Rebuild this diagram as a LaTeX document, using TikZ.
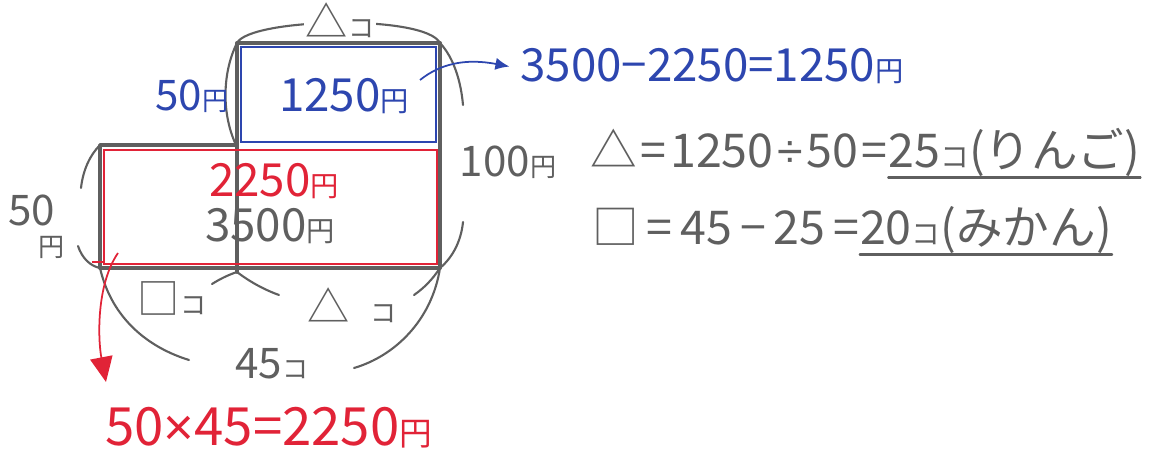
\documentclass[tikz,border=0pt]{standalone}
\usepackage{fontspec}
\setmainfont{Noto Sans CJK JP}
\newfontfamily\latinsym{Liberation Sans}
\usetikzlibrary{arrows.meta, positioning}

\definecolor{pencil}{RGB}{95,95,95}
\definecolor{penblue}{RGB}{45,70,175}
\definecolor{penred}{RGB}{225,35,55}

\newcommand{\yenmark}{\scalebox{0.62}{円}}
\newcommand{\komark}{\scalebox{0.62}{コ}}
\newcommand{\gap}{\hspace{0.17em}}
\newcommand{\sgap}{\hspace{0.08em}}

\begin{document}
\begin{tikzpicture}[
    x=0.02cm, y=-0.02cm,
    frame/.style={draw=pencil, line width=2.2pt, line join=round, line cap=round},
    inset/.style={line width=1pt},
    brace/.style={draw=pencil, line width=1.2pt, line cap=round},
    txt/.style={text=pencil, inner sep=1pt, font=\fontsize{24}{28}\selectfont},
    big/.style={font=\fontsize{26}{30}\selectfont},
    eqn/.style={text=pencil, inner sep=0pt, anchor=base west, font=\fontsize{26.5}{30}\selectfont},
    arrow/.style={line width=1pt, -{Latex[length=8pt, width=7pt]}}
]
\useasboundingbox (0,0) rectangle (1155,455);

% Corners
\coordinate (ul) at (237,43);
\coordinate (ur) at (440,43);
\coordinate (ml) at (100,145);
\coordinate (mm) at (237,145);
\coordinate (lr) at (440,268);
\coordinate (ll) at (100,268);
\coordinate (lm) at (237,272);

% Area figure
\draw[frame] (ml) -- (mm) -- (ul) -- (ur) -- (lr) -- (ll) -- cycle;
\draw[frame] (mm) -- (lm);
\draw[penblue, inset] (241,47) rectangle (436,142);
\draw[penred, inset] (104,150) rectangle (437,264);
\draw[penred, inset] (92,262) -- (104,262);

% Braces
\draw[brace] (ul) .. controls (250,18) and (425,14) .. (ur);
\draw[brace] (236,45) .. controls (222,75) and (222,115) .. (236,145);
\draw[brace] (ur) .. controls (454,58) and (461,82) .. (463,105);
\draw[brace] (463,222) .. controls (461,242) and (452,258) .. (lr);
\draw[brace] (ml) .. controls (90,155) and (83,170) .. (81,188);
\draw[brace] (78,246) .. controls (82,258) and (90,266) .. (ll);
\draw[brace] (lm) .. controls (228,275) and (220,279) .. (212,284);
\draw[brace] (lm) .. controls (250,282) and (265,290) .. (279,295);
\draw[brace] (lr) .. controls (432,280) and (424,288) .. (414,295);
\draw[brace] (ll) .. controls (112,320) and (150,348) .. (189,360);
\draw[brace] (lr) .. controls (432,320) and (395,356) .. (354,368);

% Labels
\node (topn) [txt, fill=white] at (340,20) {△\komark};
\node (upw) [txt, text=penblue] at (192,96) {50\yenmark};
\node (upval) [txt, big, text=penblue] at (344,96) {1250\yenmark};
\node (redval) [txt, big, text=penred] at (274,181) {2250\yenmark};
\node (allval) [txt, big] at (270,226) {3500\yenmark};
\node (rightw) [txt] at (508,162) {100\yenmark};
\node (leftw) [txt] at (32,210) {50};
\node (leftyen) [txt] at (52,247) {\yenmark};
\node (sqn) [txt] at (172,298) {□\komark};
\node (trn) [txt] at (352,305) {△\hspace{0.5em}\komark};
\node (alln) [txt] at (272,364) {45\komark};

% Equations
\node (subeq) [eqn, text=penblue, font=\fontsize{26}{30}\selectfont] at (520,82) {3500−2250=1250\yenmark};
\node (trieq) [eqn] at (590,168) {△\sgap=\sgap1250\sgap{\latinsym ÷}\sgap50\sgap=\sgap};
\node (trians) [eqn, base right=0pt of trieq] {25\komark(りんご)};
\node (sqeq) [eqn] at (592,245) {□\gap=\gap45\gap−\gap25\gap=\gap};
\node (sqans) [eqn, base right=0pt of sqeq] {20\komark(みかん)};
\node (muleq) [eqn, text=penred, font=\fontsize{30}{34}\selectfont] at (105,445) {50{\latinsym ×}45=2250\yenmark};

\draw[brace] (trians.south west) -- (trians.south east);
\draw[brace] (sqans.south west) -- (sqans.south east);

% Arrows
\coordinate (bluestart) at (420,80);
\coordinate (redstart) at (118,253);
\coordinate (redend) at (106,382);
\draw[arrow, penblue] (bluestart) .. controls (440,64) and (465,58) .. ([xshift=-6pt]subeq.west);
\draw[penred, line width=1pt, -{Triangle[length=0.5cm, width=0.45cm]}] (redstart) .. controls (96,285) and (98,340) .. (redend);

\end{tikzpicture}
\end{document}
